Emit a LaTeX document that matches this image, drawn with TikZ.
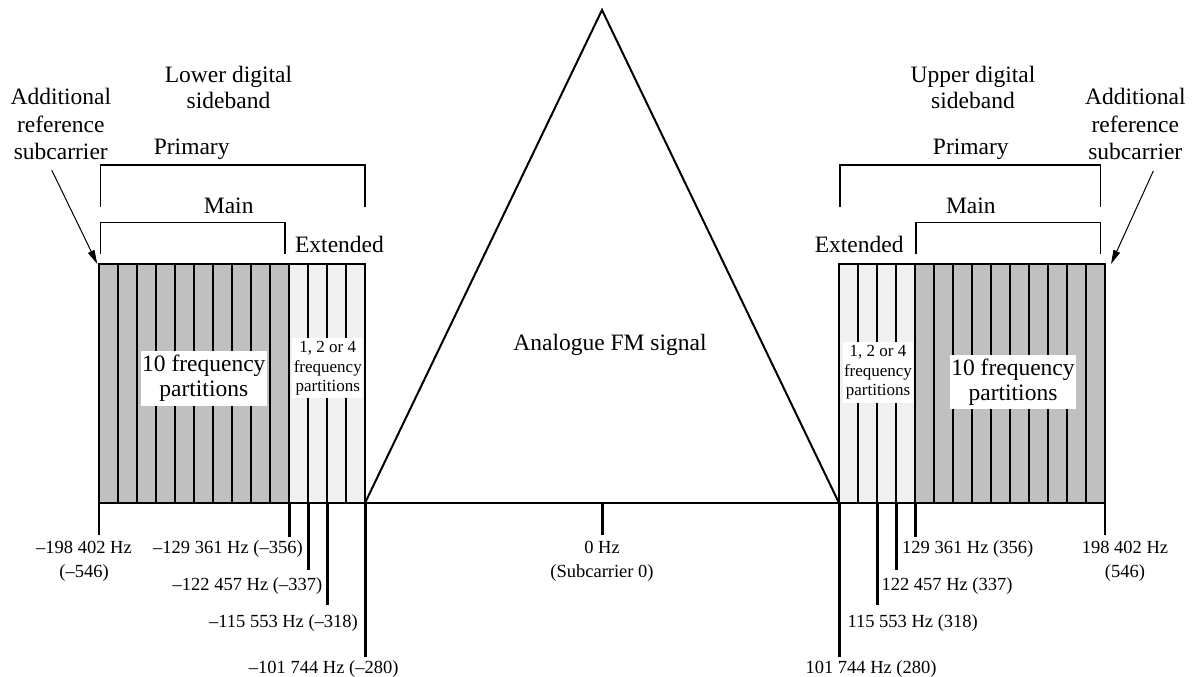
\documentclass[tikz,border=0pt]{standalone}
\usepackage{fontspec}
\setmainfont{Liberation Serif}
\usetikzlibrary{arrows.meta}
\definecolor{mainfill}{HTML}{C0C0C0}
\definecolor{extfill}{HTML}{F0F0F0}
\begin{document}
\begin{tikzpicture}[x=1pt,y=-1pt,
  big/.style={font=\fontsize{23.5}{27}\selectfont, inner sep=0pt},
  lbl/.style={font=\fontsize{18.5}{24}\selectfont, inner sep=0pt, align=center},
  small/.style={font=\fontsize{17}{19.4}\selectfont, inner sep=0pt, align=center},
  blk/.style={line width=2pt, draw=black},
  part/.style={line width=2pt},
  axisline/.style={line width=1.5pt},
  tickln/.style={line width=3pt},
  tickthin/.style={line width=2pt},
  brk/.style={line width=1.2pt},
  pointer/.style={line width=1pt, -{Triangle[length=14pt,width=7pt]}},
  whitebox/.style={fill=white, inner sep=0pt, align=center}]
\useasboundingbox (0,0) rectangle (1194,677);

% ---- left sideband blocks
\fill[mainfill] (99,263.5) rectangle (289,503);
\fill[extfill] (289,263.5) rectangle (365,503);
\foreach \i in {1,...,13} {\draw[part] ({99+19*\i},263.5) -- ({99+19*\i},503);}
\draw[blk] (99,263.5) rectangle (365,503);
% ---- right sideband blocks
\fill[extfill] (839,263.5) rectangle (915,503);
\fill[mainfill] (915,263.5) rectangle (1105,503);
\foreach \i in {1,...,13} {\draw[part] ({839+19*\i},263.5) -- ({839+19*\i},503);}
\draw[blk] (839,263.5) rectangle (1105,503);

% ---- axis and triangle
\coordinate (lend) at (99,503);
\coordinate (rend) at (1105,503);
\coordinate (tl) at (365,503);
\coordinate (tr) at (839,503);
\coordinate (apex) at (602,10);
\draw[axisline] (lend) -- (rend);
\draw[line width=2pt, line join=miter] (tl) -- (apex) -- (tr);

% ---- inner labels
\node[big, whitebox, minimum width=125.7pt, minimum height=55.3pt, font=\fontsize{23.5}{25}\selectfont] (lmain) at (203.8,378.3) {10 frequency\\partitions};
\node[small, whitebox, minimum width=71pt, minimum height=60pt] (lext) at (327.8,368.3) {1, 2 or 4\\frequency\\partitions};
\node[big, whitebox, minimum width=126pt, minimum height=54pt, font=\fontsize{23.5}{25}\selectfont] (rmain) at (1013,382.3) {10 frequency\\partitions};
\node[small, whitebox, minimum width=70.6pt, minimum height=60.4pt] (rext) at (878,372.5) {1, 2 or 4\\frequency\\partitions};
\node[big, anchor=base] (fm) at (610,350) {Analogue FM signal};

% ---- top labels
\node[big, align=center, anchor=north, font=\fontsize{23.5}{26.6}\selectfont] (lower) at (228.5,65.7) {Lower digital\\sideband};
\node[big, align=center, anchor=north, font=\fontsize{23.5}{26.6}\selectfont] (upper) at (973,65.7) {Upper digital\\sideband};
\node[big, align=center, anchor=north, font=\fontsize{23.5}{27.3}\selectfont] (laddl) at (60.8,88.3) {Additional\\reference\\subcarrier};
\node[big, align=center, anchor=north, font=\fontsize{23.5}{27.3}\selectfont] (raddl) at (1135.3,88.3) {Additional\\reference\\subcarrier};
\node[big, anchor=base] (lprim) at (191.7,154) {Primary};
\node[big, anchor=base] (rprim) at (970.8,154) {Primary};
\node[big, anchor=base] (lmainl) at (228.7,213) {Main};
\node[big, anchor=base] (rmainl) at (970.8,213) {Main};
\node[big, anchor=base] (lextl) at (339.5,252.7) {Extended};
\node[big, anchor=base] (rextl) at (859.2,252.7) {Extended};

% ---- brackets
\draw[brk] (100.7,206.7) -- (100.7,165) -- (365,165) -- (365,206.7);
\draw[brk] (100.7,254) -- (100.7,222.3) -- (285,222.3) -- (285,254);
\draw[brk] (840,206.7) -- (840,165) -- (1100.7,165) -- (1100.7,206.7);
\draw[brk] (916,254) -- (916,222.3) -- (1100.7,222.3) -- (1100.7,254);

% ---- arrows to additional reference subcarriers
\coordinate (las) at (51.7,170);
\coordinate (lat) at (97.3,264);
\coordinate (ras) at (1153.3,171);
\coordinate (rat) at (1111,264);
\draw[pointer] (las) -- (lat);
\draw[pointer] (ras) -- (rat);

% ---- ticks
\draw[tickthin] (99,503) -- (99,535);
\draw[tickln] (289,503) -- (289,537);
\draw[tickln] (308,503) -- (308,570);
\draw[tickln] (327,503) -- (327,605);
\draw[tickln] (365,503) -- (365,657);
\draw[tickln] (602,503) -- (602,535);
\draw[tickln] (839,503) -- (839,657);
\draw[tickln] (877,503) -- (877,605);
\draw[tickln] (896,503) -- (896,570);
\draw[tickln] (915,503) -- (915,537);
\draw[tickthin] (1105,503) -- (1105,535);

% ---- frequency labels
\node[lbl, anchor=north] (f0l) at (84,540.5) {–198 402 Hz\\(–546)};
\node[lbl, anchor=base] (f1l) at (228,553) {–129 361 Hz (–356)};
\node[lbl, anchor=base] (f2l) at (247.5,590) {–122 457 Hz (–337)};
\node[lbl, anchor=base] (f3l) at (283.5,627) {–115 553 Hz (–318)};
\node[lbl, anchor=base] (f4l) at (323.7,673) {–101 744 Hz (–280)};
\node[lbl, anchor=north] (fc) at (602,540.5) {0 Hz\\(Subcarrier 0)};
\node[lbl, anchor=base] (f1r) at (967.7,553) {129 361 Hz (356)};
\node[lbl, anchor=base] (f2r) at (947,590) {122 457 Hz (337)};
\node[lbl, anchor=base] (f3r) at (912.7,627) {115 553 Hz (318)};
\node[lbl, anchor=base] (f4r) at (871,673) {101 744 Hz (280)};
\node[lbl, anchor=north] (f0r) at (1125,540.5) {198 402 Hz\\(546)};
\end{tikzpicture}
\end{document}
